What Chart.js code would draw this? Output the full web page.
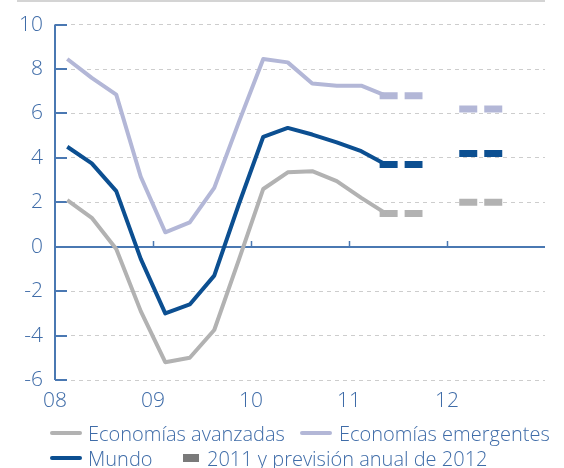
<!DOCTYPE html>
<html>
<head>
<meta charset="utf-8">
<script src="https://cdn.jsdelivr.net/npm/chart.js@4.4.1/dist/chart.umd.min.js"></script>
<style>
  html, body { margin: 0; padding: 0; background: #ffffff; }
  #wrap { position: relative; width: 564px; height: 468px; }
</style>
</head>
<body>
<div id="wrap"><canvas id="c" width="564" height="468"></canvas></div>
<script>
// ---- Data (quarterly GDP growth, %, 2008Q1 - 2011Q2) ----
const quarters = ['08T1','08T2','08T3','08T4','09T1','09T2','09T3','09T4','10T1','10T2','10T3','10T4','11T1','11T2'];
const avanzadas  = [2.1, 1.3, -0.1, -2.9, -5.2, -5.0, -3.75, -0.6, 2.6, 3.35, 3.4, 2.95, 2.2, 1.5];
const emergentes = [8.45, 7.6, 6.85, 3.15, 0.65, 1.1, 2.65, 5.6, 8.45, 8.3, 7.35, 7.25, 7.25, 6.8];
const mundo      = [4.5, 3.75, 2.5, -0.55, -3.0, -2.6, -1.3, 1.9, 4.95, 5.35, 5.05, 4.7, 4.3, 3.7];

// Annual figures: 2011 and 2012 forecast
const annualYears = ['2011', '2012'];
const avanzadasAnual  = [1.5, 2.0];
const emergentesAnual = [6.8, 6.2];
const mundoAnual      = [3.7, 4.2];
// span (in quarter units on the x scale) covered by each annual bar
const annualSpan = [[12.75, 14.5], [16.0, 17.8]];

// Axis labels
const yearLabels = ['08', '09', '10', '11', '12'];
const yearStarts = [-0.5, 3.5, 7.5, 11.5, 15.5];
const yTicks = [10, 8, 6, 4, 2, 0, -2, -4, -6];

const legendLabels = ['Economías avanzadas', 'Economías emergentes', 'Mundo', '2011 y previsión anual de 2012'];

// ---- Styles ----
const C_AV = '#b2b2b2';
const C_EM = '#b3b7d7';
const C_MU = '#0c4f91';
const C_AN = '#7a7a7a';
const C_AXIS = '#4a78b2';
const C_TXT = '#3f6ca8';
const C_GRID = '#cdcdcd';
const FONT = '"Open Sans", "Lato", sans-serif';

function quarterly(values) {
  return values.map((v, i) => ({ x: i, y: v }));
}
function annual(values) {
  const pts = [];
  values.forEach((v, i) => {
    if (i > 0) pts.push({ x: (annualSpan[i - 1][1] + annualSpan[i][0]) / 2, y: null });
    pts.push({ x: annualSpan[i][0], y: v });
    pts.push({ x: annualSpan[i][1], y: v });
  });
  return pts;
}

const lineBase = { fill: false, pointRadius: 0, pointHoverRadius: 0, tension: 0, borderJoinStyle: 'round', borderCapStyle: 'butt' };
const dashBase = { fill: false, pointRadius: 0, pointHoverRadius: 0, tension: 0, borderWidth: 7, borderDash: [18, 7], borderCapStyle: 'butt', spanGaps: false };

const decor = {
  id: 'decor',
  beforeDatasetsDraw(chart) {
    const { ctx, chartArea, scales } = chart;
    const xs = scales.x, ys = scales.y;
    ctx.save();
    // top rule
    ctx.strokeStyle = '#d4d4d4';
    ctx.lineWidth = 2;
    ctx.beginPath();
    ctx.moveTo(17, 1);
    ctx.lineTo(chartArea.right, 1);
    ctx.stroke();
    // y axis inner ticks
    ctx.strokeStyle = C_AXIS;
    ctx.lineWidth = 2;
    yTicks.forEach(v => {
      const y = Math.round(ys.getPixelForValue(v));
      ctx.beginPath();
      ctx.moveTo(chartArea.left, y);
      ctx.lineTo(chartArea.left + 12, y);
      ctx.stroke();
    });
    // zero line
    const y0 = Math.round(ys.getPixelForValue(0));
    ctx.beginPath();
    ctx.moveTo(chartArea.left, y0);
    ctx.lineTo(chartArea.right, y0);
    ctx.stroke();
    // year ticks
    ctx.lineWidth = 1.5;
    yearStarts.slice(1).forEach(v => {
      const x = Math.round(xs.getPixelForValue(v)) + 0.5;
      ctx.beginPath();
      ctx.moveTo(x, y0);
      ctx.lineTo(x, y0 - 6);
      ctx.stroke();
    });
    // y axis line
    ctx.lineWidth = 2;
    ctx.beginPath();
    ctx.moveTo(chartArea.left, ys.getPixelForValue(10));
    ctx.lineTo(chartArea.left, ys.getPixelForValue(-6));
    ctx.stroke();
    ctx.restore();
  },
  afterDraw(chart) {
    const { ctx } = chart;
    ctx.save();
    ctx.font = '300 20px ' + FONT;
    ctx.textBaseline = 'alphabetic';
    ctx.fillStyle = C_TXT;
    const items = [
      { label: legendLabels[0], color: C_AV, kind: 'line', x: 52, y: 433, tx: 88, ty: 441 },
      { label: legendLabels[1], color: C_EM, kind: 'line', x: 302, y: 433, tx: 339, ty: 441 },
      { label: legendLabels[2], color: C_MU, kind: 'line', x: 52, y: 458, tx: 88, ty: 466 },
      { label: legendLabels[3], color: C_AN, kind: 'box', x: 183, y: 458, tx: 207, ty: 466 }
    ];
    items.forEach(it => {
      if (it.kind === 'line') {
        ctx.strokeStyle = it.color;
        ctx.lineWidth = 4;
        ctx.lineCap = 'round';
        ctx.beginPath();
        ctx.moveTo(it.x, it.y);
        ctx.lineTo(it.x + 28, it.y);
        ctx.stroke();
      } else {
        ctx.fillStyle = it.color;
        ctx.fillRect(it.x, it.y - 4, 16, 8);
      }
      ctx.fillStyle = C_TXT;
      ctx.fillText(it.label, it.tx, it.ty);
    });
    ctx.restore();
  }
};

new Chart(document.getElementById('c'), {
  type: 'line',
  data: {
    datasets: [
      { ...lineBase, label: legendLabels[0], data: quarterly(avanzadas), borderColor: C_AV, borderWidth: 4 },
      { ...lineBase, label: legendLabels[1], data: quarterly(emergentes), borderColor: C_EM, borderWidth: 4 },
      { ...lineBase, label: legendLabels[2], data: quarterly(mundo), borderColor: C_MU, borderWidth: 4 },
      { ...dashBase, label: legendLabels[0] + ' anual', data: annual(avanzadasAnual), borderColor: C_AV },
      { ...dashBase, label: legendLabels[1] + ' anual', data: annual(emergentesAnual), borderColor: C_EM },
      { ...dashBase, label: legendLabels[2] + ' anual', data: annual(mundoAnual), borderColor: C_MU }
    ]
  },
  options: {
    responsive: false,
    animation: false,
    events: [],
    layout: { padding: { top: 24, right: 19, bottom: 53, left: 0 } },
    plugins: { legend: { display: false }, tooltip: { enabled: false } },
    scales: {
      x: {
        type: 'linear',
        min: -0.5,
        max: 19.5,
        afterBuildTicks(scale) { scale.ticks = yearStarts.map(v => ({ value: v })); },
        afterFit(scale) { scale.height = 35; },
        ticks: {
          autoSkip: false, maxRotation: 0, padding: 8,
          color: C_TXT, font: { family: FONT, size: 21, weight: 300 },
          callback(value) { const i = yearStarts.indexOf(value); return i >= 0 ? yearLabels[i] : ''; }
        },
        grid: { display: false, drawTicks: false },
        border: { display: false }
      },
      y: {
        min: -6,
        max: 10,
        afterBuildTicks(scale) { scale.ticks = yTicks.slice().reverse().map(v => ({ value: v })); },
        afterFit(scale) { scale.width = 55; },
        ticks: {
          padding: 12, color: C_TXT, font: { family: FONT, size: 21, weight: 300 },
          callback(value) { return String(value); }
        },
        grid: { color: C_GRID, lineWidth: 1, drawTicks: false },
        border: { display: false, dash: [4, 4] }
      }
    }
  },
  plugins: [decor]
});
</script>
</body>
</html>
